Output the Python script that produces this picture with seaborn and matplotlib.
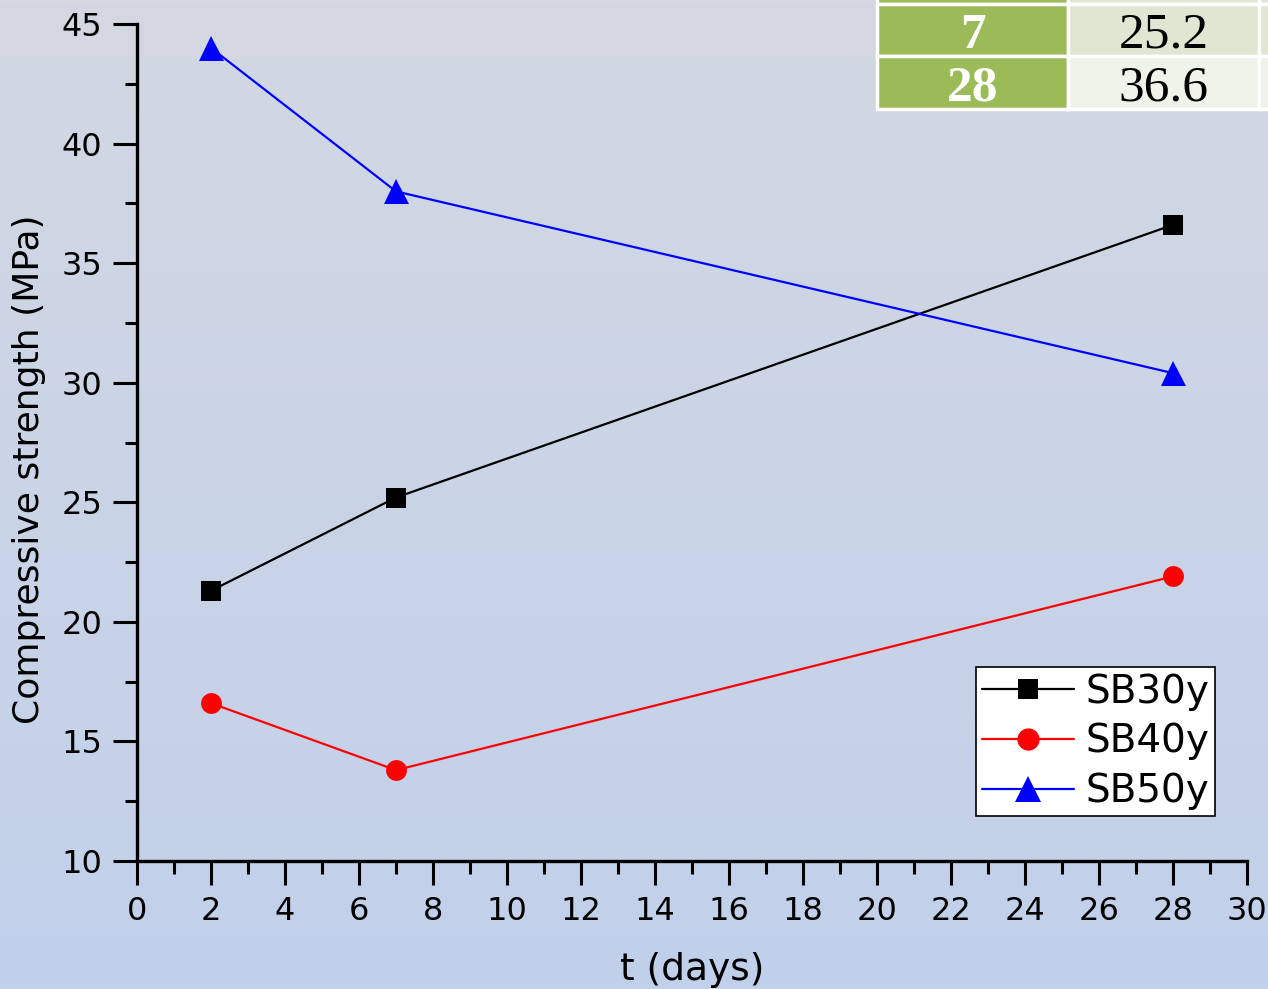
import numpy as np
import pandas as pd
import matplotlib
matplotlib.use('Agg')
from matplotlib import pyplot as plt
from matplotlib.ticker import MultipleLocator
import seaborn as sns

days = [2, 7, 28]
sb30 = [21.3, 25.2, 36.6]
sb40 = [16.6, 13.8, 21.9]
sb50 = [44.0, 38.0, 30.4]
series = ['SB30y', 'SB40y', 'SB50y']

# the clipped table in the top right corner
tab_days = ['2', '7', '28']
tab_vals = ['21.3', '25.2', '36.6']

df = pd.DataFrame({
    't': days * 3,
    'strength': sb30 + sb40 + sb50,
    'series': [s for s in series for _ in days],
})

sns.set_style('ticks')
plt.rcParams['font.family'] = ['DejaVu Sans']
plt.rcParams['text.color'] = 'black'
plt.rcParams['axes.labelcolor'] = 'black'
plt.rcParams['xtick.color'] = 'black'
plt.rcParams['ytick.color'] = 'black'

fig = plt.figure(figsize=(12.68, 9.89), dpi=100)

# gradient background
bg = fig.add_axes([0, 0, 1, 1], zorder=-10)
top = np.array([211, 216, 226]) / 255
bot = np.array([193, 208, 235]) / 255
grad = np.linspace(0, 1, 256)[:, None, None]
img = top * (1 - grad) + bot * grad
bg.imshow(img, aspect='auto', extent=[0, 1, 0, 1])
bg.axis('off')

ax = fig.add_axes([137 / 1268, 128 / 989, 1110 / 1268, 837 / 989])
ax.patch.set_alpha(0)

palette = {'SB30y': 'black', 'SB40y': 'red', 'SB50y': 'blue'}
markers = {'SB30y': 's', 'SB40y': 'o', 'SB50y': '^'}
sns.lineplot(data=df, x='t', y='strength', hue='series', style='series',
             palette=palette, markers=markers, dashes=False, ax=ax,
             linewidth=1.6, markersize=15, markeredgewidth=0, clip_on=False)
sizes = {'SB30y': 14, 'SB40y': 15, 'SB50y': 18}
for line, s in zip(ax.lines, series):
    line.set_markersize(sizes[s])

ax.set_xlim(0, 30)
ax.set_ylim(10, 45)
ax.xaxis.set_major_locator(MultipleLocator(2))
ax.xaxis.set_minor_locator(MultipleLocator(1))
ax.yaxis.set_major_locator(MultipleLocator(5))
ax.yaxis.set_minor_locator(MultipleLocator(2.5))
ax.tick_params(which='major', length=17, width=2.2, labelsize=23, direction='out', pad=8)
ax.tick_params(which='minor', length=9, width=2.2, direction='out')
for s in ['top', 'right']:
    ax.spines[s].set_visible(False)
for s in ['left', 'bottom']:
    ax.spines[s].set_linewidth(2.4)
    ax.spines[s].set_color('black')

ax.set_xlabel('t (days)', fontsize=27, labelpad=18)
ax.set_ylabel('Compressive strength (MPa)', fontsize=26)
ax.yaxis.set_label_coords(-0.082, (861 - 469) / 837)

leg = ax.legend(loc='lower right', bbox_to_anchor=(1078 / 1110, 45 / 837),
                fontsize=28, frameon=True, fancybox=False, framealpha=1,
                edgecolor='black', handlelength=2.35, handletextpad=0.3,
                borderpad=0.15, labelspacing=0.3, borderaxespad=0)
leg.get_frame().set_linewidth(1.2)
for h, s in zip(leg.legend_handles, series):
    h.set_markersize(sizes[s] + 1)

# table fragment
tab_ax = fig.add_axes([877 / 1268, (989 - 109) / 989, 573 / 1268, 158 / 989])
tab_ax.axis('off')
cells = [[d, v, ''] for d, v in zip(tab_days, tab_vals)]
colours = [['#9bbb59', '#dfe7d3', '#dfe7d3'],
           ['#9bbb59', '#dfe7d3', '#dfe7d3'],
           ['#9bbb59', '#eff3ea', '#eff3ea']]
tab = tab_ax.table(cellText=cells, cellColours=colours, bbox=[0, 0, 1, 1],
                   cellLoc='center')
tab.auto_set_font_size(False)
for (r, c), cell in tab.get_celld().items():
    cell.set_edgecolor('white')
    cell.set_linewidth(2.5)
    t = cell.get_text()
    t.set_fontfamily('Liberation Serif')
    t.set_fontsize(37)
    t.set_va('center_baseline')
    if c == 0:
        t.set_color('white')
        t.set_fontweight('bold')
    else:
        t.set_color('black')

fig.savefig('out.png', dpi=100)
